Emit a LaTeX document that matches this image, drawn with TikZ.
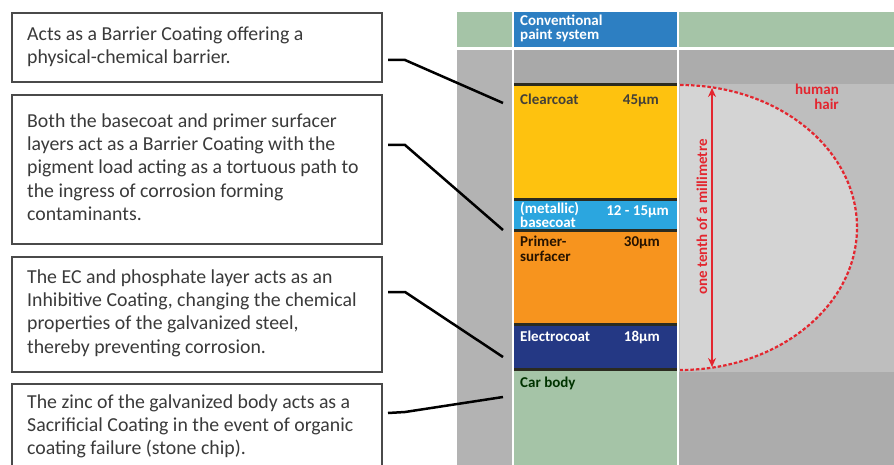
\documentclass[tikz,border=0pt]{standalone}
\usepackage{fontspec}
\setmainfont{Carlito}
\usetikzlibrary{arrows.meta}
\definecolor{bandgreen}{HTML}{A5C4A7}
\definecolor{paintblue}{HTML}{2D7FC2}
\definecolor{stripgray}{HTML}{B3B3B3}
\definecolor{colgray}{HTML}{A9A9A9}
\definecolor{rightdark}{HTML}{ACACAC}
\definecolor{rightlight}{HTML}{BEBEBE}
\definecolor{hairfill}{HTML}{D4D4D4}
\definecolor{sepdark}{HTML}{2B2B20}
\definecolor{clearyellow}{HTML}{FEC20F}
\definecolor{baseblue}{HTML}{2BA6DF}
\definecolor{primerorange}{HTML}{F7941E}
\definecolor{ecnavy}{HTML}{243884}
\definecolor{hairred}{HTML}{E3262F}
\definecolor{boxborder}{HTML}{4A4A4A}
\definecolor{boxtext}{HTML}{3A3A3A}
\begin{document}
\begin{tikzpicture}[x=1pt,y=-1pt,
  infobox/.style={draw=boxborder, line width=2pt, fill=white},
  infotext/.style={anchor=base west, align=left, inner sep=0pt, text=boxtext,
     font=\fontsize{19.8}{23.4}\selectfont},
  connector/.style={draw=black, line width=2.5pt},
  layerlabel/.style={anchor=base west, align=left, inner sep=0pt,
     font=\fontsize{15}{14}\selectfont\bfseries},
  umlabel/.style={anchor=base east, inner sep=0pt, font=\fontsize{15}{14}\selectfont\bfseries}
]
\useasboundingbox (0,0) rectangle (894,465);
\clip (0,0) rectangle (894,465);
\fill[white] (0,0) rectangle (894,465);

% ---------- right-hand cross-section ----------
\fill[bandgreen] (457,12) rectangle (894,47);
\fill[stripgray] (457,50) rectangle (894,465);
\fill[rightdark] (678,50) rectangle (894,84);
\fill[rightlight] (678,84) rectangle (894,372);
\fill[rightdark] (678,372) rectangle (894,465);

% layers
\fill[paintblue] (513,12) rectangle (678,47);
\fill[colgray] (513,50) rectangle (678,83);
\fill[sepdark] (513,83) rectangle (678,86);
\fill[clearyellow] (513,86) rectangle (678,198);
\fill[sepdark] (513,198) rectangle (678,201);
\fill[baseblue] (513,201) rectangle (678,229);
\fill[sepdark] (513,229) rectangle (678,232);
\fill[primerorange] (513,232) rectangle (678,323);
\fill[sepdark] (513,323) rectangle (678,326);
\fill[ecnavy] (513,326) rectangle (678,368);
\fill[sepdark] (513,368) rectangle (678,371);
\fill[bandgreen] (513,371) rectangle (678,465);
\draw[white, line width=1.5pt] (513,12) -- (513,465);
\draw[white, line width=1.5pt] (678,12) -- (678,465);
\draw[white, line width=2pt] (457,48.5) -- (894,48.5);

% human hair
\fill[hairfill] (680,85) arc[start angle=90, end angle=-90, x radius=177pt, y radius=142.5pt] -- cycle;
\draw[hairred, line width=2.2pt, dash pattern=on 3.5pt off 2pt]
  (680,85) arc[start angle=90, end angle=-90, x radius=177pt, y radius=142.5pt];
\coordinate (arrtop) at (712,88);
\coordinate (arrbot) at (712,367);
\draw[hairred, line width=2.5pt, {Stealth[length=9pt,width=8pt]}-{Stealth[length=9pt,width=8pt]}] (arrtop) -- (arrbot);
\node[rotate=90, inner sep=0pt, text=hairred, font=\fontsize{15}{15}\selectfont\bfseries] (tenth) at (702,217) {one tenth of a millimetre};
\node[anchor=north east, align=right, inner sep=0pt, text=hairred, font=\fontsize{15}{15}\selectfont\bfseries] (hair) at (839,84) {human\\hair};

% layer labels (anchor = baseline of last line)
\node[layerlabel, text=white] (conv) at (520,40) {Conventional\\paint system};
\node[layerlabel, text=black!85!yellow] (clear) at (520,105) {Clearcoat};
\node[umlabel, text=black!85!yellow] (clearT) at (659,105) {45µm};
\node[layerlabel, text=white, font=\fontsize{15}{11.5}\selectfont\bfseries] (base) at (520,227) {(metallic)\\basecoat};
\node[umlabel, text=white] (baseT) at (669,216) {12 - 15µm};
\node[layerlabel, text=black!85!orange] (primer) at (520,261) {Primer-\\surfacer};
\node[umlabel, text=black!85!orange] (primerT) at (660,247) {30µm};
\node[layerlabel, text=white] (ec) at (520,341) {Electrocoat};
\node[umlabel, text=white] (ecT) at (660,341) {18µm};
\node[layerlabel, text=black!80!green] (car) at (520,387) {Car body};

% ---------- left-hand boxes ----------
\node[infobox, minimum width=370pt, minimum height=69pt, anchor=north west] (box1) at (11,12) {};
\node[infobox, minimum width=370pt, minimum height=149pt, anchor=north west] (box2) at (11,94) {};
\node[infobox, minimum width=370pt, minimum height=115pt, anchor=north west] (box3) at (11,256) {};
\node[infobox, minimum width=370pt, minimum height=100pt, anchor=north west] (box4) at (11,383) {};

% infotext anchors: baseline of the last line
\node[infotext] (t1) at (27,64) {Acts as a Barrier Coating offering a\\physical-chemical barrier.};
\node[infotext] (t2) at (27,220.6) {Both the basecoat and primer surfacer\\layers act as a Barrier Coating with the\\pigment load acting as a tortuous path to\\the ingress of corrosion forming\\contaminants.};
\node[infotext] (t3) at (27,353.2) {The EC and phosphate layer acts as an\\Inhibitive Coating, changing the chemical\\properties of the galvanized steel,\\thereby preventing corrosion.};
\node[infotext] (t4) at (27,454.8) {The zinc of the galvanized body acts as a\\Sacrificial Coating in the event of organic\\coating failure (stone chip).};

% connectors
\coordinate (e1) at (503,103);
\coordinate (e2) at (503,230);
\coordinate (e3) at (503,357);
\coordinate (e4) at (503,397);
\draw[connector] ([xshift=5pt]box1.east |- 0,60) -- (405,60) -- (e1);
\draw[connector] ([xshift=5pt]box2.east |- 0,145) -- (405,145) -- (e2);
\draw[connector] ([xshift=5pt]box3.east |- 0,292) -- (405,292) -- (e3);
\draw[connector] ([xshift=5pt]box4.east |- 0,413) -- (405,412) -- (e4);
\end{tikzpicture}
\end{document}
